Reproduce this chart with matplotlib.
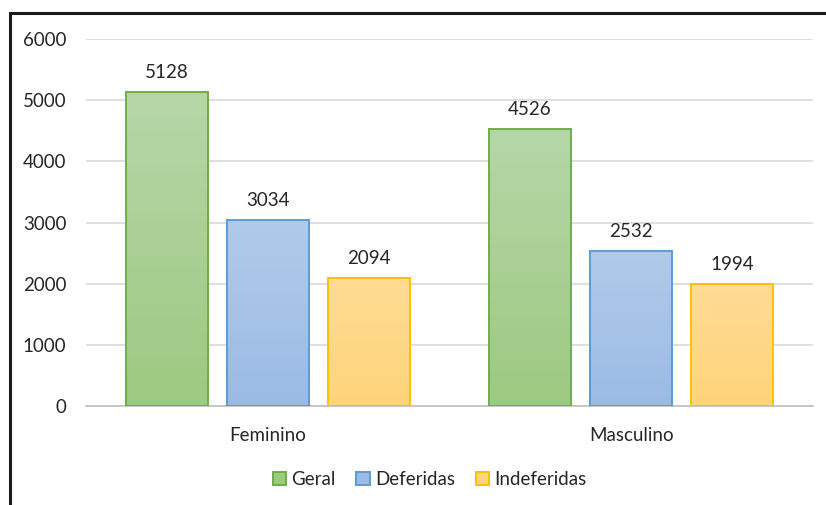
import matplotlib.pyplot as plt
import numpy as np
from matplotlib.colors import LinearSegmentedColormap
from matplotlib.patches import Rectangle

categories = ["Feminino", "Masculino"]
series_names = ["Geral", "Deferidas", "Indeferidas"]
geral = [5128, 4526]
deferidas = [3034, 2532]
indeferidas = [2094, 1994]
y_ticks = [0, 1000, 2000, 3000, 4000, 5000, 6000]

plt.rcParams["font.family"] = ["Lato", "DejaVu Sans"]
text_color = "#262626"
fs = 13.5

# (top colour, bottom colour, edge colour)
styles = [
    ("#b6d6a8", "#9dc981", "#70ad47"),
    ("#b1caea", "#9bbbe4", "#5b9bd5"),
    ("#fedb94", "#ffd47a", "#ffc000"),
]

fig = plt.figure(figsize=(8.26, 5.05), dpi=100)
ax = fig.add_axes([0.104, 0.196, 0.880, 0.7267])

# outer frame (cropped: only left and top edges visible)
fig.patches.append(
    Rectangle((10 / 826, -0.1), 1.2, 1 - 13 / 505 + 0.1, transform=fig.transFigure,
              fill=False, edgecolor="#1a1a1a", linewidth=2.2, zorder=0)
)

x = np.arange(len(categories))
width = 0.2256
step = 0.278
values = [geral, deferidas, indeferidas]

for k, (vals, name, (top, bottom, edge)) in enumerate(zip(values, series_names, styles)):
    pos = x + (k - 1) * step
    bars = ax.bar(pos, vals, width, facecolor=bottom, edgecolor=edge, linewidth=1.4,
                  label=name, zorder=3)
    cmap = LinearSegmentedColormap.from_list(name, [bottom, top])
    for b, v in zip(bars, vals):
        bx, by = b.get_x(), b.get_y()
        grad = np.linspace(0, 1, 256).reshape(-1, 1)
        im = ax.imshow(grad, cmap=cmap, origin="lower", aspect="auto",
                       extent=(bx, bx + b.get_width(), by, by + b.get_height()),
                       zorder=3.5)
        im.set_clip_path(b)
        b.set_facecolor("none")
        b.set_zorder(4)
        ax.annotate(str(v), (b.get_x() + b.get_width() / 2, v),
                    textcoords="offset points", xytext=(0, 8), ha="center",
                    va="bottom", fontsize=fs, color=text_color)

ax.set_xlim(-0.5, 1.5)
ax.set_ylim(0, 6000)
ax.set_yticks(y_ticks)
ax.set_xticks(x)
ax.set_xticklabels(categories)
ax.tick_params(axis="both", length=0, labelsize=fs, labelcolor=text_color)
ax.tick_params(axis="y", pad=14)
ax.tick_params(axis="x", pad=15)
for s in ["top", "right", "left"]:
    ax.spines[s].set_visible(False)
ax.spines["bottom"].set_color("#bfbfbf")
ax.spines["bottom"].set_linewidth(1.2)
ax.grid(axis="y", color="#d9d9d9", linewidth=1.2, zorder=0)
ax.set_axisbelow(True)

leg = ax.legend(loc="center", bbox_to_anchor=(0.473, -0.2), ncol=3, frameon=False,
                fontsize=fs, handlelength=0.7, handleheight=0.7, handletextpad=0.3,
                columnspacing=1.1, labelcolor=text_color)
for h, (top, bottom, edge) in zip(leg.legend_handles, styles):
    h.set_facecolor(bottom)

plt.savefig("out.png", dpi=100)
